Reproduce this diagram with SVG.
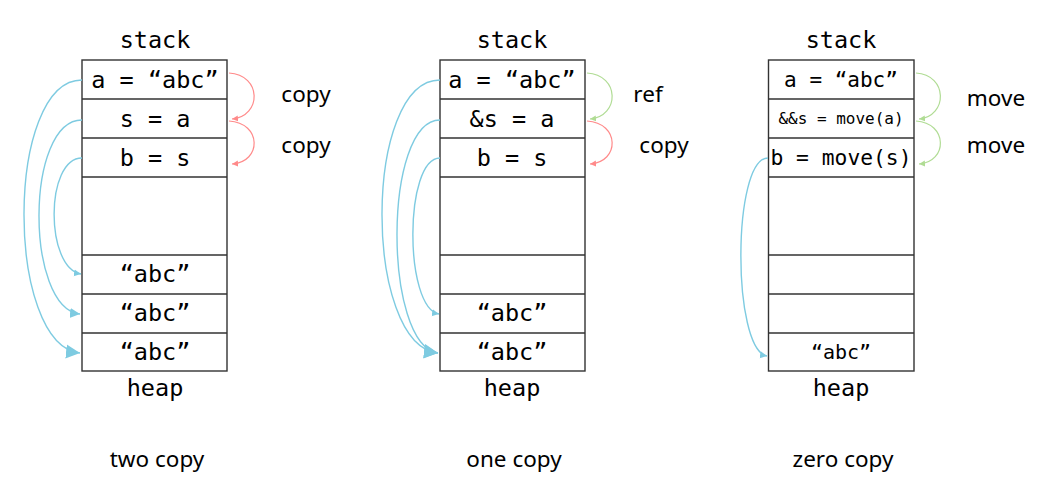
<svg xmlns="http://www.w3.org/2000/svg" width="1054" height="494" viewBox="0 0 1054 494">
<style>
.box{fill:#fff;stroke:#333;stroke-width:1.4}
.code{font-family:"DejaVu Sans Mono","Liberation Mono",monospace;font-size:23.5px;fill:#000;text-anchor:middle}
.lbl{font-family:"Noto Sans","DejaVu Sans",sans-serif;font-size:22.5px;fill:#000;text-anchor:middle}
.blue{fill:none;stroke:#7ecbe1;stroke-width:1.4}
.red{fill:none;stroke:#ff8a8a;stroke-width:1.2}
.green{fill:none;stroke:#b0dc94;stroke-width:1.2}
</style>
<defs>
<marker id="bL" markerUnits="userSpaceOnUse" markerWidth="16" markerHeight="16" refX="14" refY="8" orient="auto"><path d="M0,1 L14,8 L0,15 Z" fill="#7ecbe1"/></marker>
<marker id="bM" markerUnits="userSpaceOnUse" markerWidth="12" markerHeight="12" refX="10" refY="6" orient="auto"><path d="M0,1 L10,6 L0,11 Z" fill="#7ecbe1"/></marker>
<marker id="bS" markerUnits="userSpaceOnUse" markerWidth="10" markerHeight="10" refX="7" refY="5" orient="auto"><path d="M0,1.5 L7,5 L0,8.5 Z" fill="#7ecbe1"/></marker>
<marker id="rS" markerUnits="userSpaceOnUse" markerWidth="10" markerHeight="10" refX="6" refY="5" orient="auto"><path d="M0,2 L6,5 L0,8 Z" fill="#ff8a8a"/></marker>
<marker id="gS" markerUnits="userSpaceOnUse" markerWidth="10" markerHeight="10" refX="6" refY="5" orient="auto"><path d="M0,2 L6,5 L0,8 Z" fill="#b0dc94"/></marker>
</defs>

<g id="panel-two-copy">
<text class="code" x="155" y="48">stack</text>
<rect class="box" x="82" y="60" width="145" height="311"/>
<g fill="none" stroke="#333" stroke-width="1.4">
<path d="M82,99H227M82,138H227M82,177H227M82,255H227M82,294H227M82,333H227"/>
</g>
<text class="code" x="155" y="88">a = “abc”</text>
<text class="code" x="155" y="127">s = a</text>
<text class="code" x="155" y="166">b = s</text>
<text class="code" x="155" y="282">“abc”</text>
<text class="code" x="155" y="321">“abc”</text>
<text class="code" x="155" y="360">“abc”</text>
<text class="code" x="155" y="396">heap</text>
<text class="lbl" x="306" y="102">copy</text>
<text class="lbl" x="306" y="153">copy</text>
<text class="lbl" x="157" y="467">two copy</text>
</g>

<g id="panel-one-copy">
<text class="code" x="512" y="48">stack</text>
<rect class="box" x="440" y="60" width="145" height="311"/>
<g fill="none" stroke="#333" stroke-width="1.4">
<path d="M440,99H585M440,138H585M440,177H585M440,255H585M440,294H585M440,333H585"/>
</g>
<text class="code" x="512" y="88">a = “abc”</text>
<text class="code" x="512" y="127">&amp;s = a</text>
<text class="code" x="512" y="166">b = s</text>
<text class="code" x="512" y="321">“abc”</text>
<text class="code" x="512" y="360">“abc”</text>
<text class="code" x="512" y="396">heap</text>
<text class="lbl" x="648" y="102">ref</text>
<text class="lbl" x="664" y="153">copy</text>
<text class="lbl" x="514" y="467">one copy</text>
</g>

<g id="panel-zero-copy">
<text class="code" x="841" y="48">stack</text>
<rect class="box" x="768.5" y="60" width="145.5" height="311"/>
<g fill="none" stroke="#333" stroke-width="1.4">
<path d="M768.5,99H914M768.5,138H914M768.5,177H914M768.5,255H914M768.5,294H914M768.5,333H914"/>
</g>
<text class="code" x="841" y="87" style="font-size:21px">a = “abc”</text>
<text class="code" x="841" y="124" style="font-size:16px">&amp;&amp;s = move(a)</text>
<text class="code" x="841" y="165" style="font-size:21.3px">b = move(s)</text>
<text class="code" x="841" y="359" style="font-size:20px">“abc”</text>
<text class="code" x="841" y="396">heap</text>
<text class="lbl" x="996" y="106">move</text>
<text class="lbl" x="996" y="153">move</text>
<text class="lbl" x="843" y="467">zero copy</text>
</g>

<g id="connectors">
<path class="blue" d="M82,80 C5,80 5,345 80,353" marker-end="url(#bL)"/>
<path class="blue" d="M82,120 C25,120 25,308 80,314" marker-end="url(#bM)"/>
<path class="blue" d="M82,158 C45,158 45,268 81,274" marker-end="url(#bS)"/>
<path class="red" d="M229,73 C262,75 262,116 232,119" marker-end="url(#rS)"/>
<path class="red" d="M229,121 C262,123 262,162 232,164" marker-end="url(#rS)"/>

<path class="blue" d="M440,80 C363,80 363,345 438,353" marker-end="url(#bL)"/>
<path class="blue" d="M440,120 C383,120 383,345 438,353" marker-end="url(#bL)"/>
<path class="blue" d="M440,158 C404,158 404,308 439,314" marker-end="url(#bS)"/>
<path class="green" d="M587,73 C620,75 620,116 590,119" marker-end="url(#gS)"/>
<path class="red" d="M587,121 C620,123 620,162 590,164" marker-end="url(#rS)"/>

<path class="blue" d="M768,158 C732,158 732,350 767,356" marker-end="url(#bS)"/>
<path class="green" d="M916,73 C948,75 948,116 919,119" marker-end="url(#gS)"/>
<path class="green" d="M916,121 C948,123 948,162 919,164" marker-end="url(#gS)"/>
</g>
</svg>
